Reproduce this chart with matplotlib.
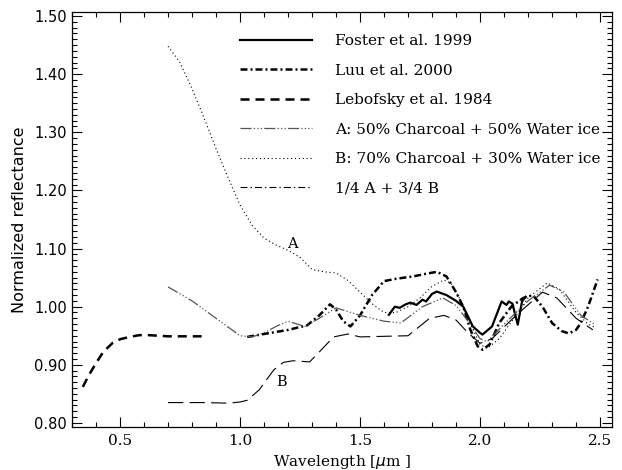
import matplotlib
matplotlib.use('Agg')
import matplotlib.pyplot as plt
from matplotlib.lines import Line2D
from matplotlib.ticker import MultipleLocator

plt.rcParams['lines.scale_dashes'] = False

# Lebofsky et al. 1984
leb_wl = [0.345, 0.37, 0.40, 0.43, 0.47, 0.50, 0.54, 0.58, 0.62, 0.66, 0.70, 0.75, 0.80, 0.84]
leb_r = [0.862, 0.882, 0.903, 0.922, 0.938, 0.944, 0.948, 0.951, 0.951, 0.950, 0.949, 0.949, 0.949, 0.949]

# Luu et al. 2000
luu_wl = [1.03, 1.10, 1.20, 1.28, 1.33, 1.375, 1.40, 1.43, 1.46, 1.50, 1.55, 1.60, 1.65, 1.72,
          1.78, 1.82, 1.86, 1.90, 1.93, 1.96, 1.99, 2.01, 2.04, 2.08, 2.13, 2.18, 2.22, 2.26,
          2.30, 2.34, 2.37, 2.40, 2.42, 2.45, 2.49]
luu_r = [0.948, 0.953, 0.960, 0.968, 0.985, 1.004, 0.995, 0.975, 0.966, 0.985, 1.020, 1.044,
         1.048, 1.052, 1.057, 1.060, 1.052, 1.025, 1.000, 0.960, 0.932, 0.926, 0.935, 0.972,
         1.000, 1.015, 1.020, 1.000, 0.972, 0.958, 0.954, 0.960, 0.972, 1.000, 1.047]

# Foster et al. 1999
fos_wl = [1.62, 1.645, 1.665, 1.69, 1.71, 1.735, 1.76, 1.775, 1.80, 1.82, 1.86, 1.90, 1.93,
          1.97, 2.00, 2.01, 2.05, 2.09, 2.11, 2.12, 2.135, 2.157, 2.175, 2.19]
fos_r = [0.986, 1.000, 0.998, 1.004, 1.007, 1.003, 1.012, 1.009, 1.022, 1.026, 1.020, 1.010,
         1.000, 0.966, 0.955, 0.952, 0.966, 1.009, 1.003, 1.009, 1.005, 0.969, 1.009, 1.017]

# Model A: 50% charcoal + 50% water ice
a_wl = [0.70, 0.80, 0.90, 1.00, 1.05, 1.10, 1.15, 1.20, 1.27, 1.33, 1.40, 1.50, 1.60, 1.67,
        1.76, 1.845, 1.90, 1.95, 2.00, 2.03, 2.10, 2.20, 2.29, 2.35, 2.42, 2.48]
a_r = [1.034, 1.010, 0.980, 0.950, 0.948, 0.955, 0.966, 0.975, 0.966, 0.980, 0.998, 0.985,
       0.975, 0.972, 1.000, 1.015, 1.002, 0.975, 0.945, 0.940, 0.970, 1.010, 1.037, 1.025,
       0.985, 0.969]

# Model B: 70% charcoal + 30% water ice
b_wl = [0.70, 0.75, 0.80, 0.85, 0.90, 0.95, 1.00, 1.05, 1.10, 1.15, 1.20, 1.25, 1.30, 1.35,
        1.40, 1.45, 1.50, 1.55, 1.60, 1.65, 1.70, 1.75, 1.80, 1.85, 1.88, 1.92, 1.96, 2.00,
        2.03, 2.08, 2.15, 2.20, 2.28, 2.33, 2.40, 2.45, 2.48]
b_r = [1.448, 1.420, 1.375, 1.325, 1.272, 1.222, 1.175, 1.140, 1.118, 1.106, 1.097, 1.085,
       1.064, 1.060, 1.058, 1.045, 1.025, 1.005, 0.990, 0.990, 1.000, 1.015, 1.035, 1.046,
       1.040, 1.010, 0.970, 0.935, 0.928, 0.945, 0.985, 1.015, 1.041, 1.030, 0.990, 0.970,
       0.964]

# 1/4 A + 3/4 B
ab_wl = [0.70, 0.85, 0.95, 1.00, 1.03, 1.08, 1.14, 1.18, 1.22, 1.29, 1.33, 1.39, 1.45, 1.50,
         1.60, 1.70, 1.79, 1.85, 1.90, 1.95, 2.00, 2.05, 2.15, 2.26, 2.32, 2.40, 2.47]
ab_r = [0.835, 0.835, 0.834, 0.836, 0.839, 0.857, 0.891, 0.904, 0.907, 0.905, 0.922, 0.948,
        0.953, 0.948, 0.949, 0.950, 0.980, 0.985, 0.977, 0.955, 0.937, 0.945, 0.985, 1.025,
        1.015, 0.980, 0.960]

labels = ['Foster et al. 1999', 'Luu et al. 2000', 'Lebofsky et al. 1984',
          'A: 50% Charcoal + 50% Water ice', 'B: 70% Charcoal + 30% Water ice',
          '1/4 A + 3/4 B']

styles = [
    dict(color='black', lw=1.6, ls='-'),
    dict(color='black', lw=1.8, dashes=(5, 2.2, 1.4, 2.2)),
    dict(color='black', lw=1.8, dashes=(6.5, 4.3)),
    dict(color='#555555', lw=0.9, dashes=(8, 1.6, 0.9, 1.6, 0.9, 1.6, 0.9, 1.6)),
    dict(color='black', lw=0.8, dashes=(0.8, 2.0)),
    dict(color='black', lw=0.8, dashes=(11, 4.5)),
]

fig = plt.figure(figsize=(6.22, 4.70), dpi=100)
ax = fig.add_axes([0.1158, 0.0915, 0.8682, 0.883])

series = [(fos_wl, fos_r), (luu_wl, luu_r), (leb_wl, leb_r),
          (a_wl, a_r), (b_wl, b_r), (ab_wl, ab_r)]
for (wl, r), st in zip(series, styles):
    ax.plot(wl, r, **st)

ax.text(1.217, 1.108, 'A', family='DejaVu Serif', fontsize=10.5, ha='center', va='center')
ax.text(1.175, 0.870, 'B', family='DejaVu Serif', fontsize=10.5, ha='center', va='center')

# legend handles: the mixed model uses a dash-dot key
leg_styles = list(styles)
leg_styles[5] = dict(color='black', lw=0.8, dashes=(5, 2.2, 1, 2.2))
handles = [Line2D([], [], **st) for st in leg_styles]
ax.legend(handles, labels, loc='upper left', bbox_to_anchor=(0.30, 0.961), frameon=False,
          prop={'family': 'DejaVu Serif', 'size': 11.1}, handlelength=4.65,
          handletextpad=1.5, labelspacing=1.0, borderaxespad=0)

ax.set_xlim(0.3, 2.55)
ax.set_ylim(0.793, 1.507)
ax.xaxis.set_major_locator(MultipleLocator(0.5))
ax.xaxis.set_minor_locator(MultipleLocator(0.1))
ax.yaxis.set_major_locator(MultipleLocator(0.1))
ax.yaxis.set_minor_locator(MultipleLocator(0.01))
ax.tick_params(which='both', direction='in', top=True, right=True, width=0.8)
ax.tick_params(which='major', length=7)
ax.tick_params(which='minor', length=3.5)
ax.set_yticklabels([f'{v:.2f}' for v in ax.get_yticks()])
for t in ax.get_xticklabels():
    t.set_family('DejaVu Serif')
    t.set_fontsize(11)
for t in ax.get_yticklabels():
    t.set_family('DejaVu Sans')
    t.set_fontsize(10.5)
ax.tick_params(axis='x', pad=5)
for sp in ax.spines.values():
    sp.set_linewidth(0.9)

ax.set_xlabel(r'Wavelength [$\mu$m ]', family='DejaVu Serif', fontsize=11, labelpad=3.5)
ax.set_ylabel('Normalized reflectance', family='DejaVu Sans', fontsize=11.5, labelpad=5)

fig.savefig('out.png', dpi=100)
